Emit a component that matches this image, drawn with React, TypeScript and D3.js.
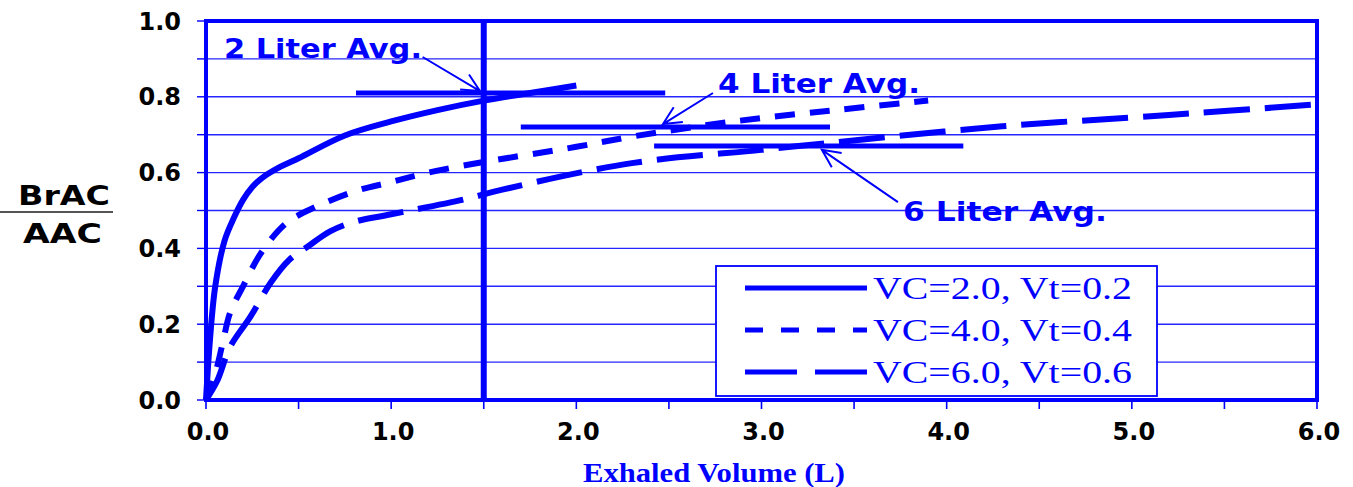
import React from 'react';
import * as d3 from 'd3';

// series: [exhaled volume (L), BrAC/AAC]
const vc2: [number, number][] = [
  [0, 0], [0.02, 0.15], [0.05, 0.3], [0.1, 0.42], [0.15, 0.48], [0.2, 0.528],
  [0.25, 0.562], [0.3, 0.585], [0.4, 0.615], [0.5, 0.638], [0.75, 0.698], [1.0, 0.735],
  [1.25, 0.765], [1.5, 0.79], [1.75, 0.81], [2.0, 0.83]
];
const vc4: [number, number][] = [
  [0, 0], [0.05, 0.07], [0.09, 0.15], [0.13, 0.23], [0.2, 0.3], [0.3, 0.39],
  [0.43, 0.465], [0.55, 0.5], [0.8, 0.55], [1.0, 0.575], [1.2, 0.6], [1.5, 0.628],
  [2.0, 0.668], [2.3, 0.695], [2.85, 0.735], [3.4, 0.765], [3.9, 0.79]
];
const vc6: [number, number][] = [
  [0, 0], [0.06, 0.05], [0.13, 0.14], [0.24, 0.22], [0.35, 0.31], [0.45, 0.37],
  [0.55, 0.405], [0.67, 0.445], [0.8, 0.47], [1.0, 0.49], [1.4, 0.53], [1.6, 0.555],
  [2.3, 0.625], [3.0, 0.66], [3.4, 0.68], [4.3, 0.722], [5.2, 0.752], [6.0, 0.78]
];

const seriesLabels = ['VC=2.0, Vt=0.2', 'VC=4.0, Vt=0.4', 'VC=6.0, Vt=0.6'];
const seriesDash = ['none', '20,15', '46,15'];

const xTicks = [0, 1, 2, 3, 4, 5, 6];
const xMinorTicks = [0, 0.5, 1, 1.5, 2, 2.5, 3, 3.5, 4, 4.5, 5, 5.5, 6];
const yTicks = [0, 0.2, 0.4, 0.6, 0.8, 1.0];
const yGrid = [0.1, 0.2, 0.3, 0.4, 0.5, 0.6, 0.7, 0.8, 0.9];
const markerVolume = 1.5;

// average bars: [x0, x1, y]
const avgBars: [number, number, number][] = [
  [0.81, 2.48, 0.81],
  [1.7, 3.37, 0.72],
  [2.42, 4.09, 0.67]
];
// annotations: text anchor, arrow start, arrow tip (data units)
const avgLabels = ['2 Liter Avg.', '4 Liter Avg.', '6 Liter Avg.'];
const avgTextPos: [number, number][] = [[0.097, 0.902], [2.765, 0.81], [3.764, 0.472]];
const avgTextLen = [198, 202, 204];
const arrowFrom: [number, number][] = [[1.17, 0.905], [2.738, 0.81], [3.737, 0.522]];
const arrowTo: [number, number][] = [[1.48, 0.815], [2.468, 0.728], [3.326, 0.66]];

const BLUE = '#0000ff';
const W = 1353;
const H = 487;
const plot = { left: 206, right: 1317, top: 21, bottom: 400 };

const App = () => {
  const x = d3.scaleLinear().domain([0, 6]).range([plot.left, plot.right]);
  const y = d3.scaleLinear().domain([0, 1]).range([plot.bottom, plot.top]);

  const line = d3.line<[number, number]>()
    .x(d => x(d[0]))
    .y(d => y(d[1]))
    .curve(d3.curveCatmullRom.alpha(0.5));

  const series = [vc2, vc4, vc6];

  const arrowPath = (from: [number, number], to: [number, number]) => {
    const x1 = x(from[0]), y1 = y(from[1]);
    const x2 = x(to[0]), y2 = y(to[1]);
    const ang = Math.atan2(y2 - y1, x2 - x1);
    const len = 20, spread = 0.45;
    const b1 = [x2 - len * Math.cos(ang - spread), y2 - len * Math.sin(ang - spread)];
    const b2 = [x2 - len * Math.cos(ang + spread), y2 - len * Math.sin(ang + spread)];
    return `M${x1},${y1}L${x2},${y2}M${b1[0]},${b1[1]}L${x2},${y2}L${b2[0]},${b2[1]}`;
  };

  const legend = { x: 716, y: 266, w: 441, h: 130 };
  const sans = '"DejaVu Sans", sans-serif';
  const serif = '"Liberation Serif", "Times New Roman", serif';

  return (
    <svg width={W} height={H} style={{ position: 'absolute', left: 0, top: 0, background: '#fff' }}>
      {/* grid */}
      {yGrid.map(v => (
        <line key={'g' + v} x1={plot.left} x2={plot.right} y1={y(v)} y2={y(v)} stroke={BLUE} strokeWidth={1.4} opacity={0.85} />
      ))}
      {/* y ticks */}
      {yGrid.concat([0, 1]).map(v => (
        <line key={'yt' + v} x1={plot.left - 9} x2={plot.left} y1={y(v)} y2={y(v)} stroke={BLUE} strokeWidth={1.4} />
      ))}
      {/* x ticks */}
      {xMinorTicks.map(v => (
        <line key={'xt' + v} x1={x(v)} x2={x(v)} y1={plot.bottom} y2={plot.bottom + 9} stroke={BLUE} strokeWidth={1.6} />
      ))}
      {/* plot frame */}
      <rect x={plot.left} y={plot.top} width={plot.right - plot.left} height={plot.bottom - plot.top} fill="none" stroke={BLUE} strokeWidth={4} />
      {/* 1.5 L marker */}
      <line x1={x(markerVolume)} x2={x(markerVolume)} y1={plot.top} y2={plot.bottom} stroke={BLUE} strokeWidth={6} />

      {/* legend box (drawn under curves) */}
      <rect x={legend.x} y={legend.y} width={legend.w} height={legend.h} fill="#fff" stroke={BLUE} strokeWidth={1.8} />
      {seriesLabels.map((s, i) => (
        <g key={s}>
          <line x1={745} x2={867} y1={288 + i * 42} y2={288 + i * 42} stroke={BLUE} strokeWidth={5} strokeDasharray={i === 1 ? '18,18' : i === 2 ? '52,18' : 'none'} />
          <text x={873} y={299 + i * 42} fontFamily={serif} fontSize={31} fill={BLUE} textLength={259} lengthAdjust="spacingAndGlyphs">{s}</text>
        </g>
      ))}

      {/* average bars */}
      {avgBars.map((b, i) => (
        <line key={'a' + i} x1={x(b[0])} x2={x(b[1])} y1={y(b[2])} y2={y(b[2])} stroke={BLUE} strokeWidth={5} />
      ))}

      {/* curves */}
      {series.map((s, i) => (
        <path key={'s' + i} d={line(s) || ''} fill="none" stroke={BLUE} strokeWidth={6} strokeDasharray={seriesDash[i]} strokeLinecap="butt" />
      ))}

      {/* annotations */}
      {avgLabels.map((t, i) => (
        <g key={t}>
          <text x={x(avgTextPos[i][0])} y={y(avgTextPos[i][1])} fontFamily={sans} fontWeight="bold" fontSize={27} fill={BLUE} textLength={avgTextLen[i]} lengthAdjust="spacingAndGlyphs">{t}</text>
          <path d={arrowPath(arrowFrom[i], arrowTo[i])} fill="none" stroke={BLUE} strokeWidth={2} />
        </g>
      ))}

      {/* tick labels */}
      {yTicks.map(v => (
        <text key={'yl' + v} x={181} y={y(v) + 8.5} textAnchor="end" fontFamily={sans} fontWeight="bold" fontSize={24} fill="#000">{v.toFixed(1)}</text>
      ))}
      {xTicks.map(v => (
        <text key={'xl' + v} x={x(v) + 2} y={440} textAnchor="middle" fontFamily={sans} fontWeight="bold" fontSize={24} fill="#000">{v.toFixed(1)}</text>
      ))}

      {/* axis titles */}
      <text x={583} y={482} fontFamily={serif} fontWeight="bold" fontSize={28} fill={BLUE} textLength={262} lengthAdjust="spacingAndGlyphs">Exhaled Volume (L)</text>
      <text x={18} y={205} fontFamily={sans} fontWeight="bold" fontSize={27} fill="#000" textLength={92} lengthAdjust="spacingAndGlyphs">BrAC</text>
      <line x1={0} x2={113} y1={212} y2={212} stroke="#555" strokeWidth={2} />
      <text x={23} y={243} fontFamily={sans} fontWeight="bold" fontSize={27} fill="#000" textLength={79} lengthAdjust="spacingAndGlyphs">AAC</text>
    </svg>
  );
};

export default App;
